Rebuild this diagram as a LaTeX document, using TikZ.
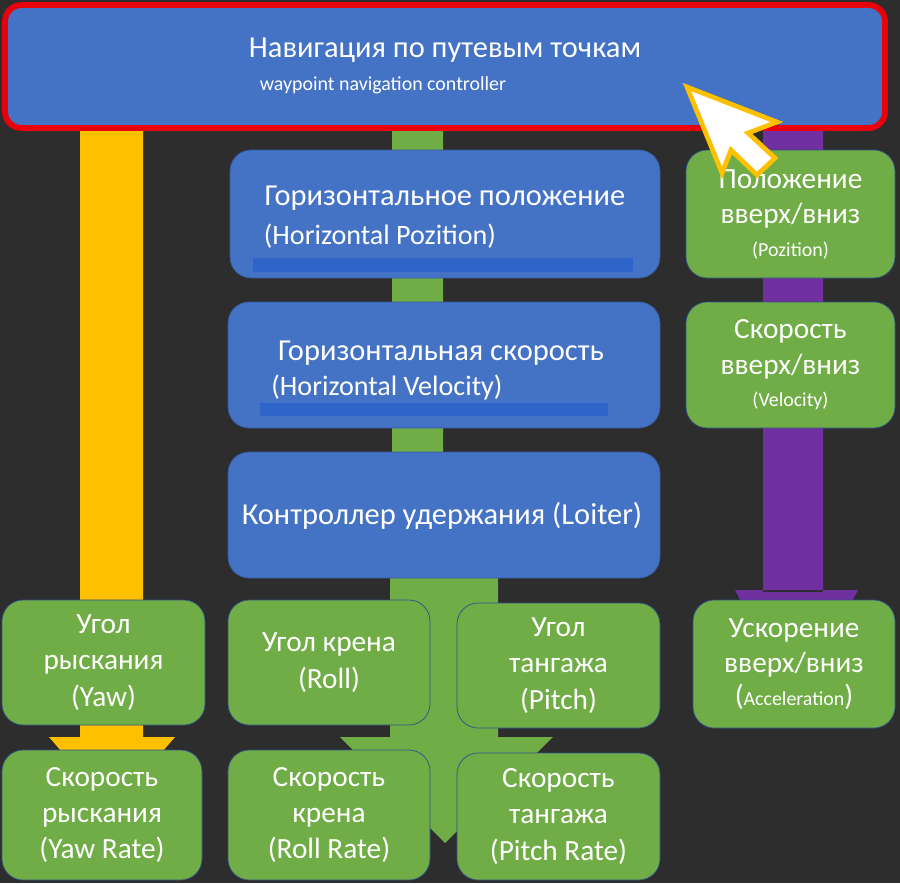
\documentclass[tikz,border=0pt]{standalone}
\usepackage{fontspec}
\setmainfont{Carlito}
\definecolor{BgDark}{HTML}{2D2D2D}
\definecolor{BoxBlue}{HTML}{4472C4}
\definecolor{BarBlue}{HTML}{2F64C8}
\definecolor{BoxGreen}{HTML}{70AD47}
\definecolor{Gold}{HTML}{FFC000}
\definecolor{Violet}{HTML}{7030A0}
\definecolor{Alarm}{HTML}{E8000B}
\tikzset{
  blk/.style={rounded corners=18, inner sep=0pt, text=white, align=center, font=\fontsize{25}{31}\selectfont},
  blue box/.style={blk, fill=BoxBlue, draw=BoxBlue!80!black, line width=0.6pt},
  green box/.style={blk, fill=BoxGreen, draw=BoxBlue!70!black, line width=0.6pt},
  small/.style={text=white, font=\fontsize{17}{19}\selectfont},
  big/.style={text=white, font=\fontsize{26}{30}\selectfont},
  mid/.style={text=white, font=\fontsize{24}{28}\selectfont}
}
% box from corner (x1,y1) to (x2,y2)
\newcommand{\bx}[7]{\node[#6, minimum width={(#4-#2)*0.03cm}, minimum height={(#5-#3)*0.03cm}] (#1) at ({(#2+#4)/2},{(#3+#5)/2}) {#7};}
\newcommand{\sm}[1]{{\fontsize{17}{19}\selectfont #1}}
\begin{document}
\begin{tikzpicture}[x=0.03cm, y=-0.03cm]
    \fill[BgDark] (0,0) rectangle (900,883);
    \useasboundingbox (0,0) rectangle (900,883);

    % Block arrows
    \fill[Gold] (80,120) rectangle (143,737) (49,737) -- (175,737) -- (162,752) -- (62,752) -- cycle;
    \fill[BoxGreen] (392,120) rectangle (443,460) (390,570) rectangle (498,740);
    \fill[BoxGreen] (340,737) -- (553,737) -- (445,843) -- cycle;
    \fill[Violet] (763,120) rectangle (823,592) (735,590) -- (858,590) -- (850,605) -- (743,605) -- cycle;

    % Top controller
    \bx{wpnav}{5}{5}{885}{128}{blue box, draw=Alarm, line width=5pt, rounded corners=14}{}
    \node[big] (wptitle) at (445,50) {Навигация по путевым точкам};
    \node[small] (wpsub) at (383,85) {waypoint navigation controller};

    % Horizontal chain
    \bx{hpos}{230}{150}{660}{278}{blue box}{}
    \fill[BarBlue] (253,258) rectangle (633,272);
    \node[big] (hposru) at (445,198) {Горизонтальное положение};
    \node[mid] (hposen) at (380,236) {(Horizontal Pozition)};

    \bx{hvel}{228}{302}{660}{428}{blue box}{}
    \fill[BarBlue] (260,403) rectangle (608,416);
    \node[big] (hvelru) at (441,353) {Горизонтальная скорость};
    \node[mid] (hvelen) at (387,387) {(Horizontal Velocity)};

    \bx{loiter}{228}{452}{660}{578}{blue box}{}
    \node[big] (loitertxt) at (442,516) {Контроллер удержания (Loiter)};

    % Vertical chain
    \bx{zpos}{686}{150}{895}{278}{green box}{Положение\\[-1pt]вверх/вниз\\[-3pt]\sm{(Pozition)}}
    \bx{zvel}{686}{302}{895}{428}{green box}{Скорость\\[-1pt]вверх/вниз\\[-3pt]\sm{(Velocity)}}
    \bx{zacc}{693}{600}{895}{728}{green box}{Ускорение\\[-1pt]вверх/вниз\\[-3pt](\sm{Acceleration})}

    % Attitude targets
    \bx{yaw}{2}{600}{205}{725}{green box}{Угол\\рыскания\\(Yaw)}
    \bx{roll}{228}{600}{430}{725}{green box}{Угол крена\\(Roll)}
    \bx{pitch}{457}{603}{660}{728}{green box}{Угол\\тангажа\\(Pitch)}

    % Rate targets
    \bx{yawrate}{2}{750}{202}{880}{green box}{Скорость\\рыскания\\(Yaw Rate)}
    \bx{rollrate}{228}{750}{430}{880}{green box}{Скорость\\крена\\(Roll Rate)}
    \bx{pitchrate}{457}{753}{660}{880}{green box}{Скорость\\тангажа\\(Pitch Rate)}

    % Cursor
    \filldraw[white, draw=Gold, line width=4pt, line join=miter]
      (687,87) -- (777,122) -- (748,133) -- (775,158) -- (757,175) -- (731,150) -- (722,173) -- cycle;
\end{tikzpicture}
\end{document}
